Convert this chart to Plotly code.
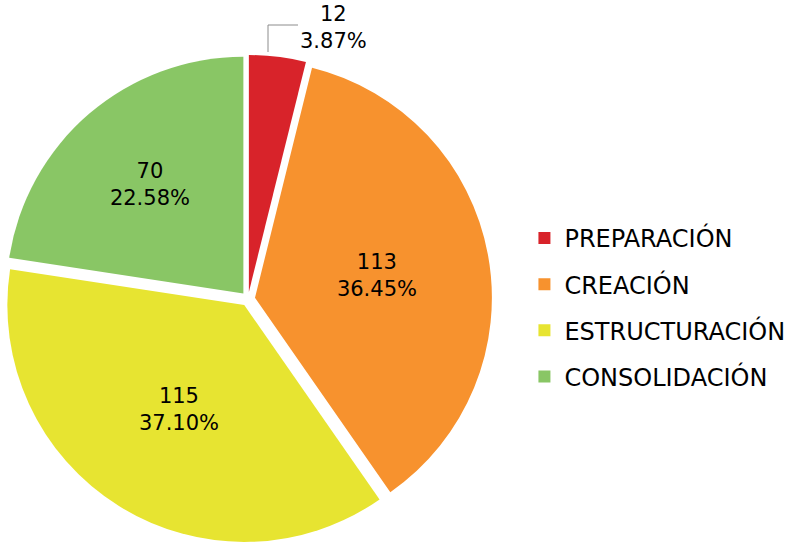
import plotly.graph_objects as go

categories = ["PREPARACIÓN", "CREACIÓN", "ESTRUCTURACIÓN", "CONSOLIDACIÓN"]
values = [12, 113, 115, 70]
colors = ["#D8232A", "#F7922E", "#E7E431", "#89C665"]

FONT = "DejaVu Sans"
W, H = 791, 543

total = sum(values)
small_label = f"{values[0]}<br>{values[0] / total * 100:.2f}%"

fig = go.Figure()
fig.add_trace(go.Pie(
    labels=categories,
    values=values,
    sort=False,
    direction="clockwise",
    rotation=0,
    pull=[0.03] * len(values),
    marker=dict(colors=colors, line=dict(color="white", width=0)),
    texttemplate="%{value}<br>%{percent:.2%}",
    textposition=["none", "inside", "inside", "inside"],
    insidetextorientation="horizontal",
    textfont=dict(family=FONT, size=21, color="black"),
    domain=dict(x=[1 / W, 495 / W], y=[0, 1 - 55 / H]),
    showlegend=False,
    hoverinfo="label+value+percent",
))

for cat, col in zip(categories, colors):
    fig.add_trace(go.Scatter(
        x=[None], y=[None], mode="markers", name=cat,
        legendgroup=cat,
        marker=dict(symbol="square", size=10, color=col),
    ))

# outside label + leader line for the small slice
fig.add_annotation(
    x=333 / W, y=1 - 28 / H, xref="paper", yref="paper",
    xanchor="center", yanchor="middle", showarrow=False,
    text=small_label, font=dict(family=FONT, size=21, color="black"),
)
fig.add_shape(
    type="path", xref="paper", yref="paper",
    path=f"M {268 / W},{1 - 52 / H} L {268 / W},{1 - 25 / H} L {298 / W},{1 - 25 / H}",
    line=dict(color="#8c8c8c", width=1),
)

fig.update_layout(
    width=W, height=H,
    margin=dict(l=0, r=0, t=0, b=0),
    paper_bgcolor="white", plot_bgcolor="white",
    xaxis=dict(visible=False), yaxis=dict(visible=False),
    font=dict(family=FONT, color="black"),
    legend=dict(
        x=0.663, y=0.434, xanchor="left", yanchor="middle",
        font=dict(family=FONT, size=24, color="black"),
        tracegroupgap=12, itemsizing="constant",
        bgcolor="rgba(0,0,0,0)",
    ),
)

fig.write_html(
    "out.html",
    config={"displayModeBar": False},
    post_script="document.body.style.margin='0';document.body.style.overflow='hidden';",
)
